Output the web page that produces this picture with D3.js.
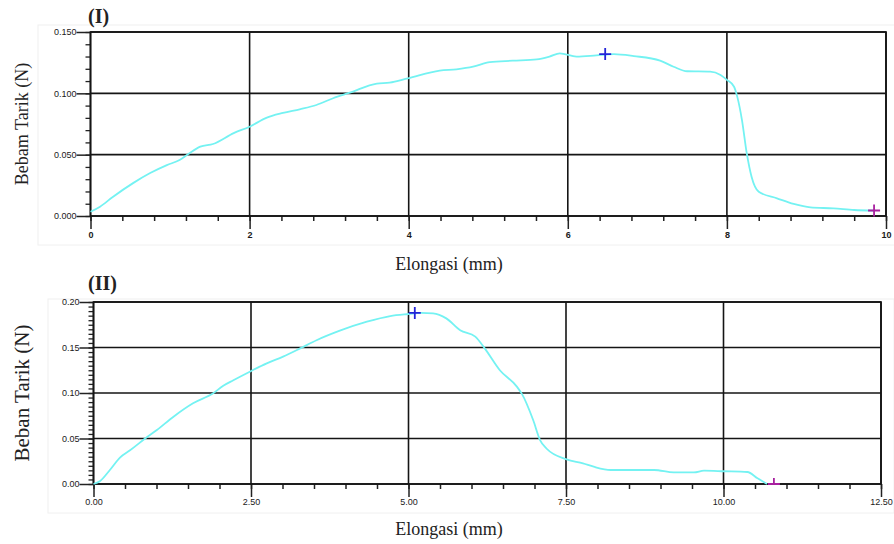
<!DOCTYPE html>
<html>
<head>
<meta charset="utf-8">
<script src="https://cdn.jsdelivr.net/npm/d3@7"></script>
<style>
  body { margin: 0; background: #fff; }
  .tick-lbl { font-family: "Liberation Sans", Arial, sans-serif; font-size: 9px; fill: #1a1a1a; }
  .title { font-family: "Liberation Serif", "Times New Roman", serif; fill: #222; }
</style>
</head>
<body>
<script>
// panel (I) - elongation (mm) vs load (N)
var elongI = [0, 0.12, 0.28, 0.54, 0.75, 0.96, 1.12, 1.23, 1.38, 1.54, 1.8, 2.0, 2.21, 2.42, 2.63,
  2.84, 3.05, 3.26, 3.6, 3.76, 3.99, 4.39, 4.6, 4.81, 5.02, 5.31, 5.61, 5.77, 5.9, 6.11, 6.36,
  6.58, 6.83, 7.16, 7.33, 7.5, 7.79, 7.92, 8.0, 8.09, 8.13, 8.19, 8.25, 8.31, 8.4, 8.63, 8.84,
  9.05, 9.34, 9.6, 9.85];
var loadI = [0.0035, 0.0076, 0.0155, 0.027, 0.035, 0.0415, 0.0456, 0.0505, 0.0565, 0.0587, 0.0676,
  0.0728, 0.080, 0.084, 0.087, 0.0905, 0.096, 0.1005, 0.108, 0.1087, 0.1122, 0.1185, 0.1196, 0.1217,
  0.1255, 0.1266, 0.1277, 0.130, 0.1326, 0.130, 0.131, 0.132, 0.1304, 0.1266, 0.1217, 0.118, 0.1177,
  0.115, 0.111, 0.1054, 0.0973, 0.078, 0.051, 0.032, 0.0198, 0.0144, 0.0098, 0.007, 0.0062, 0.0049,
  0.0044];
var peakI = [6.47, 0.132];
var breakI = [9.85, 0.0045];
var xTicksI = [0, 2, 4, 6, 8, 10];
var yTicksI = [0, 0.05, 0.1, 0.15];

// panel (II)
var elongII = [0, 0.1, 0.26, 0.42, 0.58, 0.82, 1.0, 1.27, 1.58, 1.9, 2.06, 2.22, 2.48, 2.75, 3.01,
  3.28, 3.54, 3.91, 4.34, 4.71, 5.0, 5.2, 5.39, 5.6, 5.82, 6.06, 6.21, 6.45, 6.72, 6.8, 6.98, 7.09,
  7.19, 7.51, 7.77, 7.94, 8.21, 8.9, 9.21, 9.53, 9.69, 10.01, 10.38, 10.54, 10.69];
var loadII = [0.0, 0.003, 0.0154, 0.029, 0.037, 0.050, 0.059, 0.074, 0.0887, 0.0997, 0.108, 0.114,
  0.1234, 0.1326, 0.140, 0.149, 0.158, 0.1685, 0.1784, 0.1846, 0.1868, 0.188, 0.1875, 0.182, 0.169,
  0.162, 0.149, 0.125, 0.107, 0.099, 0.070, 0.048, 0.039, 0.027, 0.0227, 0.019, 0.0154, 0.0154,
  0.0128, 0.0128, 0.0146, 0.014, 0.0132, 0.0062, 0.0];
var peakII = [5.1, 0.188];
var breakII = [10.8, 0.0];
var xTicksII = [0, 2.5, 5, 7.5, 10, 12.5];
var yTicksII = [0, 0.05, 0.1, 0.15, 0.2];

var svg = d3.select("body").append("svg")
  .attr("width", 894)
  .attr("height", 544);

function drawPanel(p) {
  var x = d3.scaleLinear().domain(p.xDomain).range([p.left, p.right]);
  var y = d3.scaleLinear().domain(p.yDomain).range([p.bottom, p.top]);
  var g = svg.append("g");

  // faint frame of the original screenshot
  g.append("rect")
    .attr("x", p.frame[0]).attr("y", p.frame[1])
    .attr("width", p.frame[2]).attr("height", p.frame[3])
    .attr("fill", "none").attr("stroke", "#f0f0f0");

  // grid lines
  g.selectAll(".vg").data(p.xTicks).enter().append("line")
    .attr("x1", function(d) { return x(d); }).attr("x2", function(d) { return x(d); })
    .attr("y1", p.top).attr("y2", p.bottom)
    .attr("stroke", "#151515").attr("stroke-width", 1.6);
  g.selectAll(".hg").data(p.yTicks).enter().append("line")
    .attr("x1", p.left).attr("x2", p.right)
    .attr("y1", function(d) { return y(d); }).attr("y2", function(d) { return y(d); })
    .attr("stroke", "#151515").attr("stroke-width", 1.6);

  // x axis: major + minor ticks
  var xMinor = d3.range(p.xDomain[0], p.xDomain[1] + 1e-9, p.xMinor);
  g.append("g").attr("transform", "translate(0," + p.bottom + ")")
    .call(d3.axisBottom(x).tickValues(xMinor).tickSize(5).tickFormat(""))
    .call(function(a) { a.select(".domain").remove(); a.selectAll("line").attr("stroke", "#222").attr("stroke-width", 1.5); });
  var xa = g.append("g").attr("transform", "translate(0," + p.bottom + ")")
    .call(d3.axisBottom(x).tickValues(p.xTicks).tickSize(13).tickPadding(p.xPad).tickFormat(p.xFmt));
  xa.select(".domain").remove();
  xa.selectAll("line").attr("stroke", "#222").attr("stroke-width", 1.5);
  xa.selectAll("text").attr("class", "tick-lbl").attr("font-weight", p.xBold ? "bold" : "normal");

  // y axis
  var yMinor = d3.range(p.yDomain[0], p.yDomain[1] + 1e-9, p.yMinor);
  g.append("g").attr("transform", "translate(" + p.left + ",0)")
    .call(d3.axisLeft(y).tickValues(yMinor).tickSize(5).tickFormat(""))
    .call(function(a) { a.select(".domain").remove(); a.selectAll("line").attr("stroke", "#222").attr("stroke-width", 1.3); });
  var ya = g.append("g").attr("transform", "translate(" + p.left + ",0)")
    .call(d3.axisLeft(y).tickValues(p.yTicks).tickSize(14).tickPadding(0).tickFormat(p.yFmt));
  ya.select(".domain").remove();
  ya.selectAll("line").attr("stroke", "#222").attr("stroke-width", 1.5);
  ya.selectAll("text").attr("class", "tick-lbl");

  // plot border
  g.append("rect")
    .attr("x", p.left).attr("y", p.top)
    .attr("width", p.right - p.left).attr("height", p.bottom - p.top)
    .attr("fill", "none").attr("stroke", "#151515").attr("stroke-width", 1.7);

  var clipId = "clip" + p.name;
  svg.append("clipPath").attr("id", clipId).append("rect")
    .attr("x", p.left).attr("y", p.top - 10)
    .attr("width", p.right - p.left).attr("height", p.bottom - p.top + 11);

  // curve
  var pts = p.xs.map(function(d, i) { return [d, p.ys[i]]; });
  var line = d3.line()
    .x(function(d) { return x(d[0]); })
    .y(function(d) { return y(d[1]); })
    .curve(d3.curveMonotoneX);
  g.append("path").datum(pts)
    .attr("d", line)
    .attr("fill", "none")
    .attr("stroke", "#74f2f2")
    .attr("stroke-width", 1.8);

  // markers
  function cross(pt, col) {
    var cx = x(pt[0]), cy = y(pt[1]);
    var m = g.append("g").attr("clip-path", "url(#" + clipId + ")");
    m.append("line").attr("x1", cx - 6).attr("x2", cx + 6).attr("y1", cy).attr("y2", cy)
      .attr("stroke", col).attr("stroke-width", 1.8);
    m.append("line").attr("x1", cx).attr("x2", cx).attr("y1", cy - 6).attr("y2", cy + 6)
      .attr("stroke", col).attr("stroke-width", 1.8);
  }
  cross(p.peak, "#2424d8");
  cross(p.brk, "#a8209f");

  // titles
  g.append("text").attr("class", "title")
    .attr("x", 88).attr("y", p.labelY)
    .attr("font-size", 20).attr("font-weight", "bold")
    .text(p.name === "I" ? "(I)" : "(II)");
  g.append("text").attr("class", "title")
    .attr("x", 449).attr("y", p.xTitleY)
    .attr("text-anchor", "middle").attr("font-size", 18)
    .text("Elongasi (mm)");
  g.append("text").attr("class", "title")
    .attr("transform", "translate(" + p.yTitleX + "," + ((p.top + p.bottom) / 2) + ") rotate(-90)")
    .attr("text-anchor", "middle").attr("font-size", p.yTitleSize)
    .text(p.yTitle);
}

drawPanel({
  name: "I", xs: elongI, ys: loadI, peak: peakI, brk: breakI,
  xDomain: [0, 10], yDomain: [0, 0.15],
  left: 90.5, right: 886, top: 32, bottom: 216,
  xTicks: xTicksI, yTicks: yTicksI, xMinor: 0.4, yMinor: 0.01,
  xFmt: d3.format("d"), yFmt: d3.format(".3f"), xBold: true, xPad: 3,
  frame: [38, 25, 860, 220],
  labelY: 23, xTitleY: 270, yTitleX: 28, yTitleSize: 18, yTitle: "Bebam Tarik (N)"
});

drawPanel({
  name: "II", xs: elongII, ys: loadII, peak: peakII, brk: breakII,
  xDomain: [0, 12.5], yDomain: [0, 0.2],
  left: 93.5, right: 881, top: 302, bottom: 484,
  xTicks: xTicksII, yTicks: yTicksII, xMinor: 0.5, yMinor: 0.005,
  xFmt: d3.format(".2f"), yFmt: d3.format(".2f"), xBold: false, xPad: 2,
  frame: [48, 299, 846, 214],
  labelY: 290, xTitleY: 535, yTitleX: 29, yTitleSize: 21, yTitle: "Beban Tarik (N)"
});
</script>
</body>
</html>
